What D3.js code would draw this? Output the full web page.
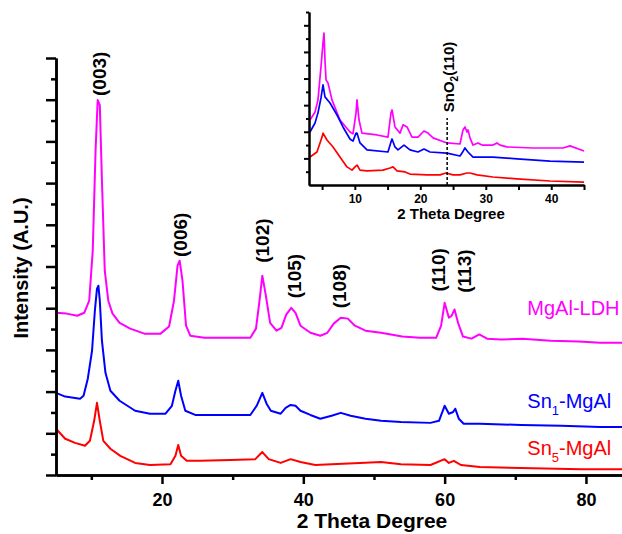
<!DOCTYPE html>
<html>
<head>
<meta charset="utf-8">
<script src="https://cdn.jsdelivr.net/npm/d3@7"></script>
<style>
  body { margin: 0; background: #fff; }
  svg { display: block; font-family: "Liberation Sans", Arial, sans-serif; }
</style>
</head>
<body>
<div class="chart"></div>
<script>
// main pattern: 2 theta (deg) and intensity (a.u.)
var ldhX = [5, 6.5, 8, 9, 9.7, 10.2, 10.6, 10.9, 11.2, 11.5, 11.9, 12.4, 13, 14, 15.5, 17.5, 19.8, 21, 21.7, 22.2, 22.5, 22.9, 23.4, 24, 26, 30, 32.5, 33.3, 33.8, 34.2, 34.7, 35.3, 36.2, 36.9, 37.6, 38.3, 38.9, 39.6, 41, 42.4, 43.4, 44.3, 45.3, 46.3, 47.3, 48.8, 51, 54, 56.5, 58.8, 59.5, 60, 60.6, 61, 61.4, 61.9, 62.6, 63.8, 64.9, 66, 68, 71, 75, 79, 82, 85.1];
var ldhY = [3.89, 3.87, 3.82, 3.89, 4.18, 5.38, 7.79, 8.99, 8.87, 7.07, 4.9, 4.18, 3.87, 3.65, 3.51, 3.39, 3.39, 3.56, 4.18, 5.02, 5.14, 4.66, 3.58, 3.34, 3.29, 3.29, 3.29, 3.51, 4.18, 4.78, 4.3, 3.65, 3.46, 3.53, 3.85, 4.01, 3.89, 3.58, 3.41, 3.34, 3.41, 3.63, 3.77, 3.75, 3.58, 3.46, 3.41, 3.32, 3.29, 3.29, 3.58, 4.13, 3.77, 3.82, 3.97, 3.65, 3.32, 3.27, 3.37, 3.27, 3.25, 3.27, 3.22, 3.2, 3.17, 3.17];

var sn1X = [5, 6.3, 8.4, 8.9, 9.5, 10.1, 10.5, 10.8, 11.0, 11.2, 11.5, 12, 12.7, 14, 16.2, 18.3, 20.5, 21.4, 21.9, 22.3, 22.7, 23.3, 24.7, 28.3, 32.5, 33.4, 34.2, 34.8, 35.4, 36.8, 37.5, 38.2, 38.9, 39.6, 41, 42.4, 44, 45.3, 46.7, 48.8, 51, 53.8, 58, 59.2, 60, 60.6, 61.2, 61.5, 62, 62.7, 65, 70.8, 76.5, 82, 85.1];
var sn1Y = [1.97, 1.88, 1.83, 1.9, 2.31, 2.98, 3.94, 4.47, 4.54, 4.18, 3.22, 2.45, 2.02, 1.78, 1.54, 1.47, 1.47, 1.66, 2.02, 2.26, 1.9, 1.54, 1.44, 1.44, 1.44, 1.66, 1.97, 1.71, 1.54, 1.47, 1.61, 1.68, 1.66, 1.54, 1.44, 1.35, 1.42, 1.49, 1.42, 1.35, 1.3, 1.27, 1.25, 1.3, 1.66, 1.47, 1.51, 1.59, 1.35, 1.23, 1.23, 1.2, 1.18, 1.15, 1.15];

var sn5X = [5, 6.3, 7.7, 9.1, 9.8, 10.4, 10.8, 11.2, 11.7, 12.7, 14.1, 16.2, 18.3, 21.2, 21.9, 22.3, 22.7, 23.5, 25.4, 29.7, 33.2, 34.2, 35.1, 36.8, 38.2, 39.6, 41.7, 44, 48, 51, 53.8, 58, 60, 60.6, 61.3, 62.3, 65, 70.8, 79.3, 85.1];
var sn5Y = [1.11, 0.87, 0.77, 0.7, 0.82, 1.3, 1.73, 1.3, 0.82, 0.63, 0.46, 0.29, 0.24, 0.26, 0.46, 0.72, 0.46, 0.34, 0.34, 0.36, 0.38, 0.55, 0.38, 0.29, 0.38, 0.31, 0.24, 0.26, 0.29, 0.31, 0.26, 0.24, 0.38, 0.29, 0.34, 0.24, 0.19, 0.17, 0.14, 0.14];

// inset (low angle)
var inLdhX = [3.15, 3.92, 4.37, 4.83, 5.14, 5.29, 5.44, 5.6, 5.9, 6.51, 7.73, 9.26, 9.72, 10.18, 10.33, 10.64, 11.09, 13.38, 15.06, 15.52, 15.68, 16.13, 16.9, 17.36, 17.97, 18.73, 19.65, 20.56, 21.17, 21.94, 24.08, 26.06, 26.52, 26.82, 27.13, 27.28, 27.59, 28.05, 28.81, 29.42, 31.1, 31.71, 32.17, 33.24, 37.21, 41.79, 42.86, 45];
var inLdhY = [2.44, 2.74, 3.2, 4.44, 5.34, 5.71, 4.7, 3.95, 3.83, 3.2, 2.44, 1.99, 1.92, 2.71, 3.2, 2.44, 1.95, 1.88, 1.8, 2.71, 2.82, 2.18, 1.95, 2.26, 2.18, 1.8, 1.8, 2.03, 1.95, 1.77, 1.58, 1.54, 2.07, 2.18, 1.99, 2.07, 1.77, 1.5, 1.58, 1.5, 1.5, 1.58, 1.5, 1.43, 1.39, 1.39, 1.47, 1.28];

var inSn1X = [3.15, 3.92, 4.37, 4.83, 5.14, 5.44, 6.21, 7.28, 8.19, 9.26, 9.72, 10.18, 10.33, 10.79, 11.86, 15.06, 15.52, 15.68, 16.13, 16.59, 17.51, 18.42, 19.65, 20.56, 21.48, 24.08, 26.06, 26.37, 26.82, 27.28, 28.05, 31.1, 34.77, 39.8, 45];
var inSn1Y = [1.99, 2.33, 2.71, 3.27, 3.76, 3.31, 3.08, 2.63, 2.18, 1.73, 1.65, 1.95, 1.95, 1.58, 1.32, 1.24, 1.62, 1.73, 1.43, 1.32, 1.5, 1.32, 1.24, 1.35, 1.24, 1.2, 1.09, 1.2, 1.39, 1.24, 1.05, 1.05, 0.98, 0.9, 0.86];

var inSn5X = [3.15, 4.22, 4.99, 5.14, 5.75, 6.67, 7.73, 8.8, 9.57, 10.03, 10.33, 10.79, 11.86, 14.3, 15.37, 15.83, 16.44, 17.66, 18.42, 21.02, 23.01, 23.92, 24.99, 26.06, 27.13, 27.59, 28.66, 31.1, 34.77, 39.8, 45];
var inSn5Y = [1.05, 1.24, 1.8, 1.95, 1.69, 1.43, 1.05, 0.68, 0.56, 0.68, 0.75, 0.56, 0.53, 0.56, 0.64, 0.68, 0.53, 0.49, 0.41, 0.38, 0.38, 0.45, 0.38, 0.38, 0.45, 0.45, 0.38, 0.3, 0.23, 0.15, 0.11];

var sampleNames = ["MgAl-LDH", "Sn1-MgAl", "Sn5-MgAl"];
var sampleColors = ["#ff00ff", "#0000ff", "#ff0000"];
var labelAt = [3.84, 1.61, 0.48];   // intensity where each name sits

var peakNames = ["(003)", "(006)", "(102)", "(105)", "(108)", "(110)", "(113)"];
var peakPos = [12.1, 23.6, 35.1, 39.7, 46.0, 60.0, 63.7];
var peakLevel = [9.62, 5.76, 5.62, 4.77, 4.53, 4.92, 4.89];

var mainTicks = [20, 40, 60, 80];
var mainMinor = [10, 30, 50, 70];
var insetTicks = [10, 20, 30, 40];
var insetMinor = [5, 15, 25, 35, 45];
var sno2Pos = 24.1;

var width = 622, height = 534;

var x = d3.scaleLinear().domain([5, 85.1]).range([56, 622]);
var y = d3.scaleLinear().domain([0, 10]).range([475, 58]);

var xi = d3.scaleLinear().domain([3, 45]).range([309, 584]);
var yi = d3.scaleLinear().domain([0, 6.5]).range([185, 12]);

function zip(a, b) {
  return a.map(function(v, i) { return [v, b[i]]; });
}

var svg = d3.select(".chart").append("svg")
    .attr("width", width)
    .attr("height", height);

// ---- main plot ----
var line = d3.line()
  .x(function(d) { return x(d[0]); })
  .y(function(d) { return y(d[1]); });

var mainSeries = [zip(ldhX, ldhY), zip(sn1X, sn1Y), zip(sn5X, sn5Y)];

svg.append("g").selectAll("path")
  .data(mainSeries)
  .enter().append("path")
    .attr("d", line)
    .attr("fill", "none")
    .attr("stroke", function(d, i) { return sampleColors[i]; })
    .attr("stroke-width", 2)
    .attr("stroke-linejoin", "round");

function styleAxis(g, w) {
  g.selectAll("path, line").attr("stroke", "#000").attr("stroke-width", w);
  g.selectAll("text").attr("fill", "#000").attr("font-weight", "bold")
    .attr("font-family", "'Liberation Sans', Arial, sans-serif");
}

var yMajor = svg.append("g")
  .attr("transform", "translate(" + x(5) + ",0)")
  .call(d3.axisLeft(y).tickValues(d3.range(0, 10.01, 1)).tickSize(10).tickSizeOuter(0).tickFormat(""));
var yMinor = svg.append("g")
  .attr("transform", "translate(" + x(5) + ",0)")
  .call(d3.axisLeft(y).tickValues(d3.range(0.5, 10, 1)).tickSize(5).tickSizeOuter(0).tickFormat(""));
styleAxis(yMajor, 2.5);
styleAxis(yMinor, 2.5);

var xMinor = svg.append("g")
  .attr("transform", "translate(0," + y(0) + ")")
  .call(d3.axisBottom(x).tickValues(mainMinor).tickSize(5).tickSizeOuter(0).tickFormat(""));
var xMajor = svg.append("g")
  .attr("transform", "translate(0," + y(0) + ")")
  .call(d3.axisBottom(x).tickValues(mainTicks).tickSize(9).tickSizeOuter(0).tickPadding(9).tickFormat(d3.format("d")));
styleAxis(xMinor, 2.5);
styleAxis(xMajor, 2.5);
xMajor.selectAll("text").attr("font-size", 18);

svg.append("text")
  .attr("x", 372).attr("y", 528)
  .attr("text-anchor", "middle")
  .attr("font-size", 21).attr("font-weight", "bold")
  .text("2 Theta Degree");

svg.append("text")
  .attr("transform", "translate(28,268) rotate(-90)")
  .attr("text-anchor", "middle")
  .attr("font-size", 20).attr("font-weight", "bold")
  .text("Intensity (A.U.)");

// peak indices
svg.append("g").selectAll("text")
  .data(peakNames)
  .enter().append("text")
    .attr("transform", function(d, i) {
      return "translate(" + x(peakPos[i]) + "," + y(peakLevel[i]) + ") rotate(-90)";
    })
    .attr("text-anchor", "middle")
    .attr("font-size", 19).attr("font-weight", "bold")
    .text(function(d) { return d; });

// sample names
var names = svg.append("g").selectAll("text")
  .data(sampleNames)
  .enter().append("text")
    .attr("x", x(71.7))
    .attr("y", function(d, i) { return y(labelAt[i]); })
    .attr("font-size", 20)
    .attr("fill", function(d, i) { return sampleColors[i]; });

names.each(function(d) {
  var t = d3.select(this);
  var m = d.match(/^Sn(\d)(.*)$/);
  if (!m) { t.text(d); return; }
  t.append("tspan").text("Sn");
  t.append("tspan").attr("dy", 7).attr("font-size", 13).text(m[1]);
  t.append("tspan").attr("dy", -7).text(m[2]);
});

// ---- inset ----
var lineIn = d3.line()
  .x(function(d) { return xi(d[0]); })
  .y(function(d) { return yi(d[1]); });

var insetSeries = [zip(inLdhX, inLdhY), zip(inSn1X, inSn1Y), zip(inSn5X, inSn5Y)];

svg.append("g").selectAll("path")
  .data(insetSeries)
  .enter().append("path")
    .attr("d", lineIn)
    .attr("fill", "none")
    .attr("stroke", function(d, i) { return sampleColors[i]; })
    .attr("stroke-width", 1.7)
    .attr("stroke-linejoin", "round");

svg.append("line")
  .attr("x1", xi(sno2Pos)).attr("x2", xi(sno2Pos))
  .attr("y1", yi(0)).attr("y2", yi(2.52))
  .attr("stroke", "#000").attr("stroke-width", 1.5)
  .attr("stroke-dasharray", "3,2");

var sno2 = svg.append("text")
  .attr("transform", "translate(" + xi(25.1) + "," + yi(4.06) + ") rotate(-90)")
  .attr("text-anchor", "middle")
  .attr("font-size", 15).attr("font-weight", "bold");
sno2.append("tspan").text("SnO");
sno2.append("tspan").attr("dy", 4).attr("font-size", 10).text("2");
sno2.append("tspan").attr("dy", -4).text("(110)");

var yiMajor = svg.append("g")
  .attr("transform", "translate(" + xi(3) + ",0)")
  .call(d3.axisLeft(yi).tickValues(d3.range(1, 6.01, 1)).tickSize(5).tickSizeOuter(0).tickFormat(""));
var yiMinor = svg.append("g")
  .attr("transform", "translate(" + xi(3) + ",0)")
  .call(d3.axisLeft(yi).tickValues(d3.range(0.5, 6.6, 1)).tickSize(3).tickSizeOuter(0).tickFormat(""));
styleAxis(yiMajor, 2);
styleAxis(yiMinor, 2);

var xiMinor = svg.append("g")
  .attr("transform", "translate(0," + yi(0) + ")")
  .call(d3.axisBottom(xi).tickValues(insetMinor).tickSize(5).tickSizeOuter(0).tickFormat(""));
var xiMajor = svg.append("g")
  .attr("transform", "translate(0," + yi(0) + ")")
  .call(d3.axisBottom(xi).tickValues(insetTicks).tickSize(5).tickSizeOuter(0).tickPadding(4).tickFormat(d3.format("d")));
styleAxis(xiMinor, 2);
styleAxis(xiMajor, 2);
xiMajor.selectAll("text").attr("font-size", 12);

svg.append("text")
  .attr("x", 451).attr("y", 219)
  .attr("text-anchor", "middle")
  .attr("font-size", 15).attr("font-weight", "bold")
  .text("2 Theta Degree");
</script>
</body>
</html>
